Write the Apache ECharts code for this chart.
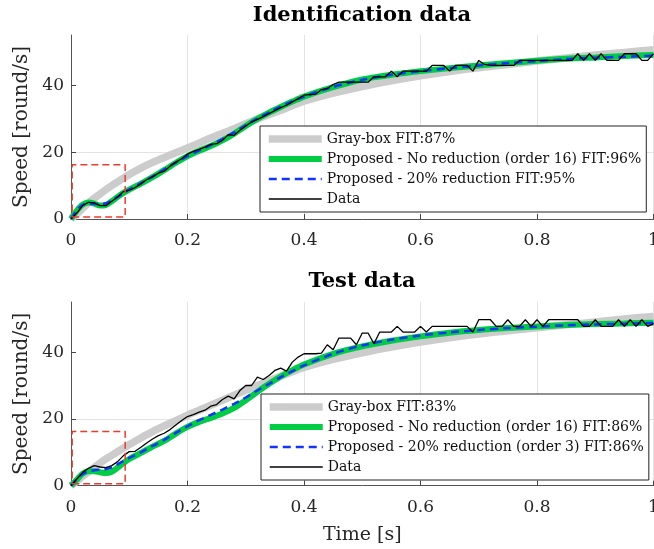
<!DOCTYPE html>
<html><head><meta charset="utf-8">
<script src="https://cdn.jsdelivr.net/npm/echarts@6/dist/echarts.min.js"></script>
<style>html,body{margin:0;padding:0;background:#fff}#c{width:654px;height:549px}</style>
</head><body><div id="c"></div>
<script>
// ---- data ----
const tData = [0,0.01,0.02,0.03,0.04,0.05,0.06,0.07,0.08,0.09,0.10,0.11,0.12,0.13,0.14,0.15,0.16,0.17,0.18,0.19,0.20,0.21,0.22,0.23,0.24,0.25,0.26,0.27,0.28,0.29,0.30,0.31,0.32,0.33,0.34,0.35,0.36,0.37,0.38,0.39,0.40,0.41,0.42,0.43,0.44,0.45,0.46,0.47,0.48,0.49,0.50,0.51,0.52,0.53,0.54,0.55,0.56,0.57,0.58,0.59,0.60,0.61,0.62,0.63,0.64,0.65,0.66,0.67,0.68,0.69,0.70,0.71,0.72,0.73,0.74,0.75,0.76,0.77,0.78,0.79,0.80,0.81,0.82,0.83,0.84,0.85,0.86,0.87,0.88,0.89,0.90,0.91,0.92,0.93,0.94,0.95,0.96,0.97,0.98,0.99,1.00];
const idMeasured = [0,1.8,4.0,5.0,4.8,4.0,4.0,5.3,6.6,8.2,8.6,9.4,10.5,11.8,12.6,13.7,14.3,15.8,17.0,18.0,19.4,20.2,20.8,21.5,22.3,22.5,23.5,25.2,25.0,26.5,27.8,29.0,29.8,30.6,31.5,32.4,33.3,34.0,35.0,36.0,37.0,37.2,37.3,38.7,39.0,40.2,40.9,40.9,40.9,40.9,40.9,40.9,42.5,42.5,42.5,44.2,42.5,44.2,44.2,44.2,44.2,44.2,45.9,45.9,45.9,44.2,45.9,45.9,45.9,44.2,47.4,46.2,45.9,45.9,45.9,45.9,45.9,47.4,47.4,47.4,47.4,47.4,47.4,47.4,47.4,47.4,47.4,49.4,47.4,49.4,47.4,49.4,47.4,47.4,47.4,49.4,49.4,49.4,47.4,47.4,49.4];
const testMeasured = [0,2.0,4.0,5.2,6.0,5.6,5.4,6.0,7.2,9.0,10.2,10.3,11.5,12.8,14.0,15.0,15.7,16.8,18.2,19.5,20.7,21.3,22.0,22.6,23.8,24.3,25.8,26.8,26.0,28.5,30.0,30.0,32.5,31.8,33.0,34.5,35.2,34.3,37.0,38.5,39.5,39.5,39.5,39.7,42.2,40.7,44.2,44.2,44.2,42.2,45.7,45.7,42.5,46.0,46.0,46.0,47.7,46.0,46.0,46.0,47.7,46.0,47.7,47.7,47.7,47.7,47.7,47.7,47.7,46.0,49.7,49.7,49.7,47.7,47.7,49.7,47.7,47.7,49.7,47.7,49.7,47.7,49.7,49.7,49.7,49.7,49.7,49.7,47.7,47.7,49.7,47.7,47.7,47.7,49.7,47.7,49.7,47.7,49.7,47.7,48.5];

const tModel = [0,0.01,0.02,0.03,0.04,0.05,0.06,0.07,0.08,0.09,0.10,0.12,0.14,0.16,0.18,0.20,0.22,0.24,0.26,0.28,0.30,0.32,0.34,0.36,0.38,0.40,0.45,0.50,0.55,0.60,0.65,0.70,0.75,0.80,0.85,0.90,0.95,1.00];
const idGray  = [0,1.5,3.2,4.8,6.2,7.5,8.8,10.0,11.1,12.2,13.3,15.2,16.9,18.4,19.8,21.2,22.7,24.2,25.6,27.0,28.5,29.9,31.2,32.5,33.9,35.2,37.6,39.6,41.3,42.8,44.1,45.2,46.2,47.2,48.1,49.0,49.8,50.6];
const idGreen = [0,2.5,4.3,4.9,4.6,4.0,4.2,5.3,6.6,7.8,8.8,10.6,12.5,14.6,16.8,18.8,20.4,21.8,23.5,25.5,27.8,29.9,31.8,33.5,35.1,36.6,39.4,41.7,43.1,44.2,45.1,45.9,46.6,47.3,47.9,48.3,48.7,49.0];
const idBlue  = [0,2.6,4.2,4.6,4.5,4.4,4.7,5.5,6.6,7.8,8.8,10.7,12.7,14.8,16.9,18.8,20.5,22.1,23.9,25.9,28.0,30.0,31.9,33.6,35.2,36.6,39.5,41.6,43.1,44.2,45.1,45.9,46.6,47.2,47.8,48.2,48.5,48.8];
const testGray  = [0,1.3,2.8,4.2,5.5,6.8,8.0,9.1,10.2,11.3,12.3,14.3,16.2,17.9,19.5,21.1,22.6,24.1,25.6,27.1,28.6,30.0,31.4,32.8,34.1,35.4,37.8,39.8,41.5,43.0,44.3,45.4,46.4,47.3,48.2,49.0,49.9,50.7];
const testGreen = [0,1.8,3.6,4.3,4.3,4.0,3.8,4.2,5.4,6.8,8.0,9.8,11.7,13.4,15.6,17.6,19.1,20.3,21.6,23.3,25.6,28.1,30.5,32.7,34.6,36.3,39.5,41.7,43.4,44.7,45.8,46.6,47.2,47.7,48.1,48.4,48.6,48.8];
const testBlue  = [0,2.0,3.5,4.3,4.6,4.8,5.0,5.5,6.4,7.4,8.3,10.0,11.9,13.7,15.8,17.8,19.6,21.2,22.8,24.5,26.4,28.5,30.5,32.5,34.3,36.0,39.5,42.0,43.7,45.0,45.9,46.6,47.2,47.6,48.0,48.3,48.5,48.7];

// zoom box (time, speed)
const zoomBoxT = [0.002,0.093,0.093,0.002,0.002];
const zoomBoxV = [0.6,0.6,16.2,16.2,0.6];

const titles = ['Identification data','Test data'];
const idNames = ['Gray-box FIT:87%','Proposed - No reduction (order 16) FIT:96%','Proposed - 20% reduction FIT:95%','Data'];
const testNames = ['Gray-box FIT:83%','Proposed - No reduction (order 16) FIT:86%','Proposed - 20% reduction (order 3) FIT:86%','Data'];
const xTicks = [0,0.2,0.4,0.6,0.8,1];
const yTicks = [0,20,40];

// ---- chart ----
const FONT = 'DejaVu Serif';
const pairs = (t, v) => t.map((x, i) => [x, v[i]]);
const chart = echarts.init(document.getElementById('c'), null, {renderer: 'canvas'});

const grids = [
  {left: 71, top: 35, width: 582.5, height: 184, containLabel: false, outerBoundsMode: 'none'},
  {left: 71, top: 302, width: 582.5, height: 183.7, containLabel: false, outerBoundsMode: 'none'}
];
function xAxis(i) {
  return {
    type: 'value', gridIndex: i, min: 0, max: 1, interval: 0.2,
    name: i === 1 ? 'Time [s]' : '', nameLocation: 'middle', nameGap: 40,
    nameTextStyle: {fontFamily: FONT, fontSize: 19, color: '#262626'},
    axisLine: {show: true, lineStyle: {color: '#555', width: 1}},
    axisTick: {show: true, inside: true, length: 5, lineStyle: {color: '#444'}},
    axisLabel: {fontFamily: FONT, fontSize: 17, color: '#262626', margin: 13,
      formatter: v => String(+v.toFixed(1))},
    splitLine: {show: true, showMinLine: false, lineStyle: {color: '#e3e3e3', width: 1}}
  };
}
function yAxis(i) {
  return {
    type: 'value', gridIndex: i, min: 0, max: 55, interval: 20,
    name: 'Speed [round/s]', nameLocation: 'middle', nameGap: 38, nameRotate: 90,
    nameTextStyle: {fontFamily: FONT, fontSize: 20, color: '#262626'},
    axisLine: {show: true, lineStyle: {color: '#555', width: 1}},
    axisTick: {show: true, inside: true, length: 5, lineStyle: {color: '#444'}, customValues: yTicks},
    axisLabel: {fontFamily: FONT, fontSize: 17, color: '#262626', margin: 7, customValues: yTicks},
    splitLine: {show: true, showMinLine: false, showMaxLine: false, lineStyle: {color: '#e3e3e3', width: 1}}
  };
}
function seriesFor(i, names, gray, green, blue, meas) {
  return [
    {type: 'line', name: names[0], xAxisIndex: i, yAxisIndex: i, data: pairs(tModel, gray), smooth: 0.3,
      symbol: 'none', lineStyle: {color: '#cccccc', width: 7.5}, itemStyle: {color: '#cccccc'}},
    {type: 'line', name: names[1], xAxisIndex: i, yAxisIndex: i, data: pairs(tModel, green), smooth: 0.3,
      symbol: 'none', lineStyle: {color: '#00cc44', width: 6}, itemStyle: {color: '#00cc44'}},
    {type: 'line', name: names[2], xAxisIndex: i, yAxisIndex: i, data: pairs(tModel, blue), smooth: 0.3,
      symbol: 'none', lineStyle: {color: '#1133ff', width: 2.5, type: [8, 5]}, itemStyle: {color: '#1133ff'}},
    {type: 'line', name: names[3], xAxisIndex: i, yAxisIndex: i, data: pairs(tData, meas),
      symbol: 'none', lineStyle: {color: '#000000', width: 1.3}, itemStyle: {color: '#000'}},
    {type: 'line', name: 'box' + i, xAxisIndex: i, yAxisIndex: i, data: pairs(zoomBoxT, zoomBoxV),
      symbol: 'none', lineStyle: {color: '#ee3a2a', width: 1.5, type: [7, 4]}, silent: true}
  ];
}
function legend(names, left, top) {
  return {
    data: names, orient: 'vertical', left: left, top: top,
    backgroundColor: '#fff', borderColor: '#222', borderWidth: 1, borderRadius: 0,
    padding: [5, 5, 5, 5], itemGap: 4, itemWidth: 53, itemHeight: 16,
    lineStyle: {width: 'inherit'},
    itemStyle: {opacity: 0, borderWidth: 0},
    textStyle: {fontFamily: FONT, fontSize: 14, color: '#111', lineHeight: 16},
    selectedMode: false
  };
}
const option = {
  animation: false,
  backgroundColor: '#fff',
  title: [
    {text: titles[0], left: 362, top: 5, textAlign: 'center', padding: 0,
      textStyle: {fontFamily: FONT, fontSize: 21, fontWeight: 'bold', color: '#000'}},
    {text: titles[1], left: 362, top: 271, textAlign: 'center', padding: 0,
      textStyle: {fontFamily: FONT, fontSize: 21, fontWeight: 'bold', color: '#000'}}
  ],
  grid: grids,
  xAxis: [xAxis(0), xAxis(1)],
  yAxis: [yAxis(0), yAxis(1)],
  legend: [legend(idNames, 260, 126), legend(testNames, 261, 394)],
  series: [
    ...seriesFor(0, idNames, idGray, idGreen, idBlue, idMeasured),
    ...seriesFor(1, testNames, testGray, testGreen, testBlue, testMeasured)
  ]
};
chart.setOption(option);
</script>
</body></html>
